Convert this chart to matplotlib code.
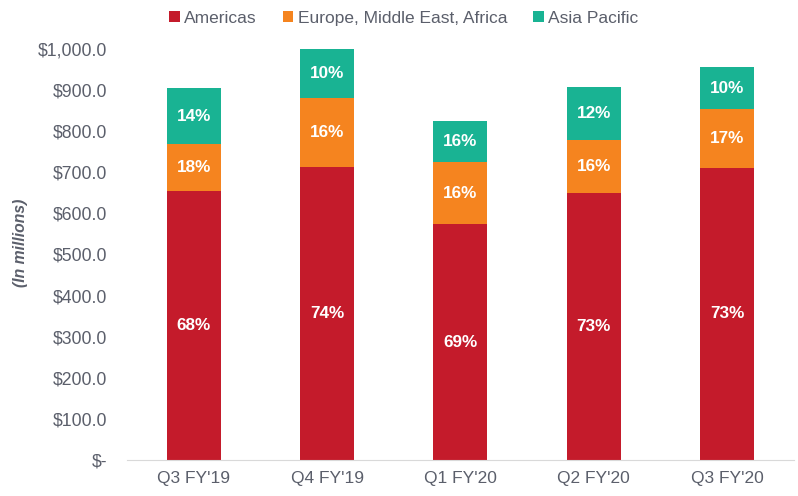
import matplotlib.pyplot as plt
import numpy as np
from matplotlib.patches import Patch
from matplotlib.ticker import FuncFormatter

# Revenue by region, $ millions
quarters = ["Q3 FY'19", "Q4 FY'19", "Q1 FY'20", "Q2 FY'20", "Q3 FY'20"]
americas = [655, 714, 573, 649, 711]
emea = [114, 168, 151, 130, 142]
apac = [135, 117, 101, 129, 102]

# Percent labels as printed on the bars
americas_pct = ["68%", "74%", "69%", "73%", "73%"]
emea_pct = ["18%", "16%", "16%", "16%", "17%"]
apac_pct = ["14%", "10%", "16%", "12%", "10%"]

series_names = ["Americas", "Europe, Middle East, Africa", "Asia Pacific"]
colors = ["#C41B2B", "#F5841F", "#19B393"]
text_gray = "#5B5F6B"

plt.rcParams['font.family'] = ['Liberation Sans', 'DejaVu Sans']

fig = plt.figure(figsize=(7.98, 4.96), dpi=100)
ax = fig.add_axes([0.159, 0.0726, 0.836, 0.8286])

x = np.arange(len(quarters))
width = 0.405

bottom = np.zeros(len(quarters))
for vals, labels, color in zip([americas, emea, apac],
                               [americas_pct, emea_pct, apac_pct], colors):
    vals = np.array(vals, dtype=float)
    ax.bar(x, vals, width, bottom=bottom, color=color)
    for xi, b, v, lab in zip(x, bottom, vals, labels):
        ax.text(xi, b + v / 2, lab, ha='center', va='center',
                color='white', fontsize=12.3, fontweight='bold')
    bottom += vals

ax.set_xlim(-0.5, len(quarters) - 0.5)
ax.set_ylim(0, 1000)
ax.set_yticks(np.arange(0, 1001, 100))


def money(v, pos):
    if v == 0:
        return "$-"
    return f"${v:,.1f}"


ax.yaxis.set_major_formatter(FuncFormatter(money))
ax.set_xticks(x)
ax.set_xticklabels(quarters)
ax.tick_params(axis='y', length=0, pad=14, labelsize=12.7, labelcolor=text_gray)
ax.tick_params(axis='x', length=0, pad=8, labelsize=12.5, labelcolor=text_gray)

for side in ['top', 'right', 'left']:
    ax.spines[side].set_visible(False)
ax.spines['bottom'].set_color('#D9D9D9')

fig.text(0.026, 0.51, "(In millions)", rotation=90, ha='center', va='center',
         fontsize=11.3, fontstyle='italic', fontweight='bold', color=text_gray)

handles = [Patch(facecolor=c, edgecolor='none') for c in colors]
fig.legend(handles, series_names, loc='center', bbox_to_anchor=(0.506, 0.963),
           ncol=3, frameon=False, fontsize=12.5, labelcolor=text_gray,
           handlelength=0.6, handleheight=0.6, handletextpad=0.25,
           columnspacing=1.5)

fig.savefig("out.png", dpi=100)
